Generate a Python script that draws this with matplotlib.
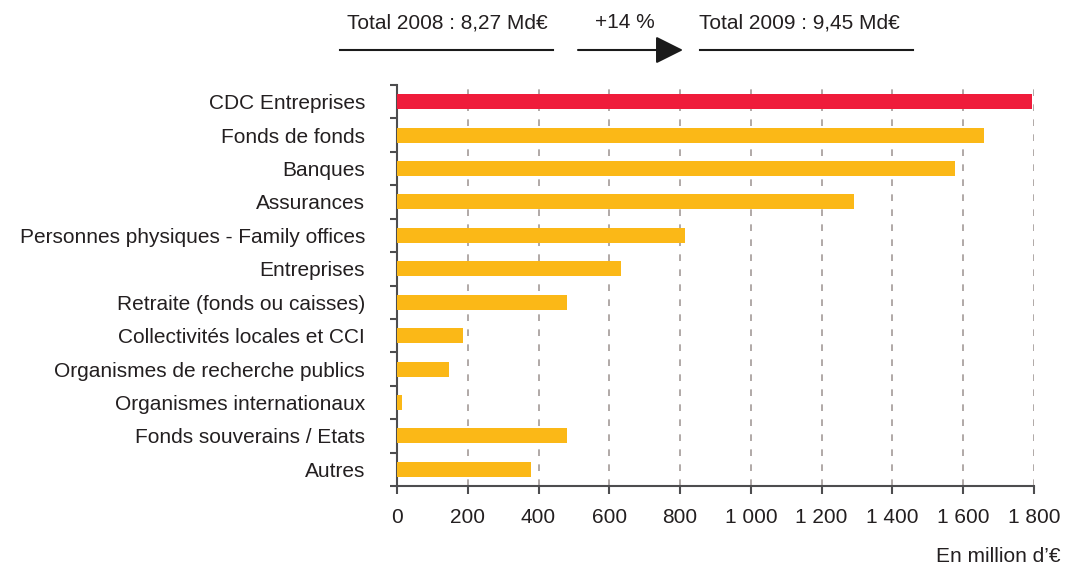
import matplotlib.pyplot as plt
from matplotlib.lines import Line2D

plt.rcParams['font.family'] = ['Liberation Sans', 'DejaVu Sans']

# investisseurs (haut -> bas) et montants en millions d'euros
categories = ["CDC Entreprises", "Fonds de fonds", "Banques", "Assurances",
              "Personnes physiques - Family offices", "Entreprises",
              "Retraite (fonds ou caisses)", "Collectivités locales et CCI",
              "Organismes de recherche publics", "Organismes internationaux",
              "Fonds souverains / Etats", "Autres"]
values = [1793, 1658, 1578, 1290, 815, 634, 481, 187, 147, 14, 481, 379]
highlight = "CDC Entreprises"

xticks = [0, 200, 400, 600, 800, 1000, 1200, 1400, 1600, 1800]
xtick_labels = ["0", "200", "400", "600", "800", "1 000", "1 200", "1 400", "1 600", "1 800"]

total_2008 = "Total 2008 : 8,27 Md\u20ac"
total_2009 = "Total 2009 : 9,45 Md\u20ac"
growth = "+14 %"
unit = "En million d\u2019\u20ac"

red = "#ef1c3b"
orange = "#fbb817"
txt = "#231f20"
axcol = "#4d4d4f"
fs = 15

fig = plt.figure(figsize=(10.65, 5.67), dpi=100)
ax = fig.add_axes([397 / 1065, 1 - 486 / 567, (1034 - 397) / 1065, (486 - 85) / 567])

n = len(categories)
ypos = list(range(n))[::-1]
colors = [red if c == highlight else orange for c in categories]
ax.barh(ypos, values, height=0.45, color=colors, zorder=3)

ax.set_xlim(0, 1800)
ax.set_ylim(-0.5, n - 0.5)
ax.set_xticks(xticks)
ax.set_xticklabels(xtick_labels, fontsize=fs, color=txt)
ax.set_yticks(ypos)
ax.set_yticklabels(categories, fontsize=fs, color=txt)
ax.set_yticks([i - 0.5 for i in range(n + 1)], minor=True)

ax.tick_params(axis='y', which='major', length=0, pad=23)
ax.tick_params(axis='y', which='minor', length=5, width=1.5, color=axcol, direction='out')
ax.tick_params(axis='x', which='major', length=6, width=1.5, color=axcol, pad=10)

for v in xticks[1:]:
    ax.axvline(v, color="#a39b98", lw=1.2, ls=(0, (4, 5)), zorder=1)

for s in ['top', 'right']:
    ax.spines[s].set_visible(False)
for s in ['left', 'bottom']:
    ax.spines[s].set_color(axcol)
    ax.spines[s].set_linewidth(1.5)

# en-tête : totaux et évolution
yt = 1 - 23 / 567
fig.text(447 / 1065, yt, total_2008, ha='center', va='center', fontsize=fs, color=txt)
fig.text(625 / 1065, yt, growth, ha='center', va='center', fontsize=fs, color=txt)
fig.text(799 / 1065, yt, total_2009, ha='center', va='center', fontsize=fs, color=txt)
yl = 1 - 50 / 567
fig.add_artist(Line2D([340 / 1065, 553 / 1065], [yl, yl], color="#1a1a1a", lw=1.5))
fig.add_artist(Line2D([700 / 1065, 913 / 1065], [yl, yl], color="#1a1a1a", lw=1.5))
ax.annotate("", xy=(683 / 1065, yl), xytext=(578 / 1065, yl), xycoords='figure fraction',
            textcoords='figure fraction',
            arrowprops=dict(arrowstyle='-|>,head_length=1.7,head_width=0.85', color="#1a1a1a", lw=1.5,
                            shrinkA=0, shrinkB=0))

fig.text(1060 / 1065, 1 - 557 / 567, unit, ha='right', va='center', fontsize=fs, color=txt)

fig.savefig("out.png", dpi=100)
